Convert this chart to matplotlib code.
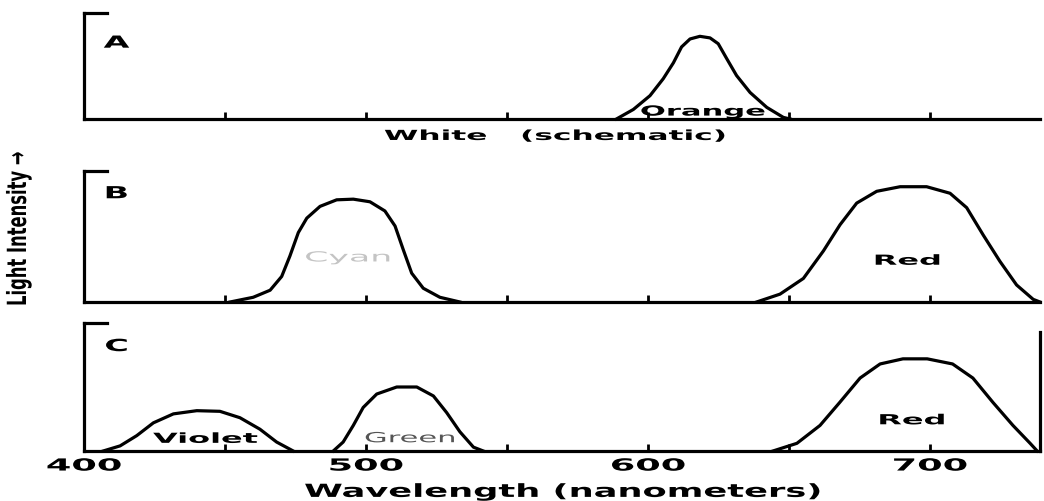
import matplotlib
matplotlib.use("Agg")
import matplotlib.pyplot as plt
import matplotlib.patheffects as pe
from matplotlib.transforms import Affine2D

# values (wavelength in nm, intensity relative to panel top)
a_orange_nm = [588.8, 594.8, 600.7, 605.4, 609.0, 611.9, 614.9, 618.4, 622.0, 624.9,
               627.9, 631.4, 636.2, 642.1, 648.0, 650.4]
a_orange_int = [0, 0.09, 0.22, 0.38, 0.53, 0.68, 0.755, 0.78, 0.765, 0.71,
                0.57, 0.41, 0.25, 0.11, 0.015, 0]

b_cyan_nm = [451.8, 460.0, 466.0, 470.1, 473.0, 476.0, 479.0, 483.7, 489.6, 495.5,
             501.4, 506.7, 510.3, 513.2, 516.2, 520.3, 526.2, 533.3]
b_cyan_int = [0, 0.036, 0.09, 0.195, 0.35, 0.53, 0.64, 0.73, 0.78, 0.785,
              0.765, 0.695, 0.58, 0.40, 0.22, 0.105, 0.036, 0]

b_red_nm = [638.5, 646.8, 655.1, 662.2, 668.1, 674.0, 681.1, 689.4, 698.8, 707.1,
            713.0, 718.9, 724.8, 730.7, 736.6, 739.0]
b_red_int = [0, 0.06, 0.18, 0.39, 0.59, 0.755, 0.845, 0.88, 0.88, 0.83,
             0.72, 0.51, 0.31, 0.13, 0.02, 0]

c_violet_nm = [406.8, 412.8, 418.7, 424.6, 431.7, 440.0, 448.2, 455.3, 462.4, 468.3, 474.2]
c_violet_int = [0, 0.04, 0.12, 0.22, 0.29, 0.315, 0.31, 0.26, 0.17, 0.07, 0]

c_green_nm = [488.4, 491.9, 495.5, 499.0, 503.8, 510.9, 518.0, 523.9, 528.6, 533.3,
              538.1, 541.6]
c_green_int = [0, 0.07, 0.20, 0.34, 0.445, 0.50, 0.50, 0.43, 0.30, 0.15, 0.03, 0]

c_red_nm = [644.3, 652.8, 661.0, 668.0, 675.2, 682.3, 690.4, 699.0, 708.0, 715.2,
            722.3, 729.4, 735.5, 738.0]
c_red_int = [0, 0.06, 0.20, 0.38, 0.57, 0.68, 0.72, 0.72, 0.68, 0.57,
             0.38, 0.20, 0.06, 0]

major_ticks = [400, 500, 600, 700]
minor_ticks = [450, 550, 650]
tick_labels = ["400", "500", "600", "700"]


class Stretch(pe.AbstractPathEffect):
    # rescale drawn text around its centre (the scan uses a very wide face)
    def __init__(self, sx, sy=1.0):
        super().__init__()
        self.sx = sx
        self.sy = sy

    def draw_path(self, renderer, gc, tpath, affine, rgbFace=None):
        ext = tpath.get_extents(affine)
        cx = (ext.x0 + ext.x1) / 2
        cy = (ext.y0 + ext.y1) / 2
        t = Affine2D().translate(-cx, -cy).scale(self.sx, self.sy).translate(cx, cy)
        renderer.draw_path(gc, tpath, affine + t, rgbFace)


LW = 2.3

fig = plt.figure(figsize=(10.44, 5.02), dpi=100)
left, width = 84 / 1044, 956 / 1044
ax_a = fig.add_axes([left, 1 - 120 / 502, width, 106 / 502])
ax_b = fig.add_axes([left, 1 - 303 / 502, width, 131 / 502])
ax_c = fig.add_axes([left, 1 - 452 / 502, width, 128 / 502])

for ax in (ax_a, ax_b, ax_c):
    ax.set_xlim(400, 739)
    ax.set_ylim(0, 1)
    ax.set_yticks([])
    ax.set_xticks(major_ticks)
    ax.set_xticks(minor_ticks, minor=True)
    ax.tick_params(axis="x", which="both", direction="in", length=5, width=2,
                   color="black", pad=4)
    for side in ("left", "bottom", "top", "right"):
        ax.spines[side].set_linewidth(LW)
        ax.spines[side].set_color("black")
    ax.spines["top"].set_bounds(400, 408)
    ax.spines["right"].set_visible(False)
    ax.patch.set_alpha(0)

ax_a.set_xticklabels([])
ax_b.set_xticklabels([])
ax_c.set_xticklabels(tick_labels, fontsize=12, fontweight="bold")
for lab in ax_c.get_xticklabels():
    lab.set_path_effects([Stretch(2.2)])
ax_c.spines["right"].set_visible(True)
ax_c.spines["right"].set_bounds(0, 0.93)

# curves
curve_kw = dict(color="black", lw=LW, clip_on=False, solid_joinstyle="round")
ax_a.plot(a_orange_nm, a_orange_int, **curve_kw)
ax_b.plot(b_cyan_nm, b_cyan_int, **curve_kw)
ax_b.plot(b_red_nm, b_red_int, **curve_kw)
ax_c.plot(c_violet_nm, c_violet_int, **curve_kw)
ax_c.plot(c_green_nm, c_green_int, **curve_kw)
ax_c.plot(c_red_nm, c_red_int, **curve_kw)

# panel letters
for ax, letter, ypos in ((ax_a, "A", 0.72), (ax_b, "B", 0.83), (ax_c, "C", 0.82)):
    ax.text(0.034, ypos, letter, transform=ax.transAxes, ha="center", va="center",
            fontsize=12, fontweight="bold", path_effects=[Stretch(2.0)])

# band labels
ax_a.text(619.5, 0.07, "Orange", ha="center", va="center", fontsize=10,
          fontweight="bold", path_effects=[Stretch(2.2)])
ax_a.text(567, -0.16, "White   (schematic)", ha="center", va="center", fontsize=10,
          fontweight="bold", path_effects=[Stretch(2.25)], clip_on=False)
ax_b.text(493.6, 0.34, "Cyan", ha="center", va="center", fontsize=10,
          color="#c4c4c4", path_effects=[Stretch(2.5)])
ax_b.text(692, 0.315, "Red", ha="center", va="center", fontsize=10,
          fontweight="bold", path_effects=[Stretch(2.3)])
ax_c.text(443, 0.095, "Violet", ha="center", va="center", fontsize=10,
          fontweight="bold", path_effects=[Stretch(2.3)])
ax_c.text(515.6, 0.10, "Green", ha="center", va="center", fontsize=10,
          color="#555555", path_effects=[Stretch(2.2)])
ax_c.text(693.6, 0.24, "Red", ha="center", va="center", fontsize=10,
          fontweight="bold", path_effects=[Stretch(2.3)])

xl = ax_c.set_xlabel("Wavelength (nanometers)", fontsize=13, fontweight="bold",
                     labelpad=6)
xl.set_path_effects([Stretch(1.95)])

# condensed, tall y label as in the scan
fig.text(19 / 1044, 1 - 230 / 502, "Light Intensity \u2192", rotation=90,
         ha="center", va="center", fontsize=19, fontweight="bold",
         path_effects=[Stretch(1.0, 0.62)])

fig.savefig("out.png", dpi=100, facecolor="white")
